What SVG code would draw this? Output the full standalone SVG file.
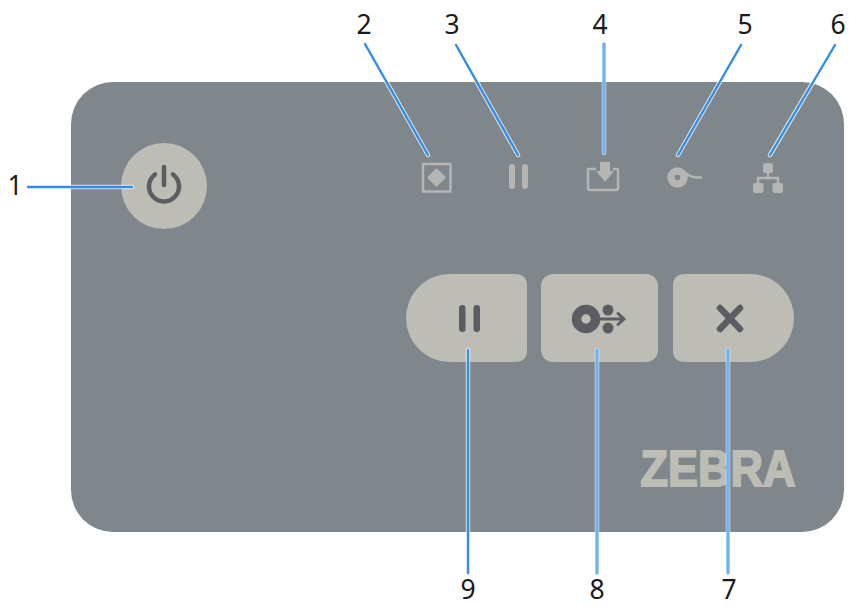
<svg xmlns="http://www.w3.org/2000/svg" width="849" height="607" viewBox="0 0 849 607">
<style>
.num{font-family:"Noto Sans","Open Sans",sans-serif;font-size:26.500px;fill:#1a1a1a;text-anchor:middle}
.halo{stroke:#fff;stroke-width:4.500;stroke-linecap:round;fill:none;opacity:.75}
.ln{stroke:#2f8fe8;stroke-width:2.400;stroke-linecap:round;fill:none}
.lnw{stroke:#74b2ee;stroke-width:3.400;stroke-linecap:round;fill:none}
.btn{fill:#bdbdb5}
.led{fill:#b5b5b3}
.ledl{fill:none;stroke:#b5b5b3}
.ic{fill:#5d5c63}
.icl{fill:none;stroke:#5d5c63;stroke-linecap:round}
</style>
<rect id="panel" x="71" y="82" width="773" height="450" rx="42" fill="#7f868c"/>
<g id="power">
<circle class="btn" cx="164" cy="186" r="43"/>
<path class="icl" stroke-width="4.500" d="M155 174.500A15 15 0 1 0 173 174.500M164 167V185"/>
</g>
<g id="led-status">
<rect class="ledl" x="423" y="164" width="27.500" height="27.500" stroke-width="2.500"/>
<path class="led" stroke="#b5b5b3" stroke-width="3" stroke-linejoin="round" d="M436.500 170L444 177.500L436.500 185L429 177.500Z"/>
</g>
<g id="led-pause">
<rect class="led" x="509" y="164" width="6" height="25" rx="3"/>
<rect class="led" x="522" y="164" width="6" height="25" rx="3"/>
</g>
<g id="led-data">
<path class="ledl" stroke-width="2.500" d="M596 169H588V188.500Q588 190 590 190H616Q618 190 618 188.500V170Q618 169 616 169H613"/>
<path class="led" d="M600 162H610V171H614L605 182L596 171H600Z"/>
</g>
<g id="led-supplies">
<circle class="ledl" cx="677.500" cy="177.500" r="6.500" stroke-width="7.500"/>
<path class="ledl" stroke-width="2.500" d="M686 173Q690 178 702 177.500"/>
</g>
<g id="led-network">
<rect class="led" x="763" y="163" width="10" height="10" rx="2"/>
<rect class="led" x="753" y="183" width="10.500" height="10" rx="2"/>
<rect class="led" x="772.500" y="183" width="10.500" height="10" rx="2"/>
<path class="ledl" stroke-width="2.500" d="M768 172V178M758 184V178H778V184"/>
</g>
<g id="btn-pause">
<path class="btn" d="M450 274H515Q527 274 527 286V350Q527 362 515 362H450A44 44 0 0 1 450 274Z"/>
<rect class="ic" x="459" y="305" width="6.500" height="27" rx="3"/>
<rect class="ic" x="473.500" y="305" width="6.500" height="27" rx="3"/>
</g>
<g id="btn-feed">
<rect class="btn" x="541" y="274" width="117" height="88" rx="12"/>
<circle class="icl" cx="586" cy="319" r="9.500" stroke-width="9.500"/>
<circle class="ic" cx="608" cy="310" r="5.500"/>
<circle class="ic" cx="608" cy="328" r="5.500"/>
<path class="icl" stroke-width="3" d="M596 319H624M618 313.500L624 319L618 324.500"/>
</g>
<g id="btn-cancel">
<path class="btn" d="M685 274H750A44 44 0 0 1 750 362H685Q673 362 673 350V286Q673 274 685 274Z"/>
<path class="icl" stroke-width="6.500" d="M720 308L740 329M740 308L720 329"/>
</g>
<text id="logo" x="718" y="486" font-family="Liberation Sans,sans-serif" font-size="50" font-weight="700" fill="#bdbdb5" stroke="#bdbdb5" stroke-width="2" text-anchor="middle" textLength="155" lengthAdjust="spacingAndGlyphs">ZEBRA</text>
<g id="connectors">
<path class="halo" d="M28 187H132M365 44L428 155M456 45L518 155M604 44V153M741 45L678 155M835 45L770 155M728 350V573M597 350V573M468 350V573"/>
<path class="ln" d="M28 187H132M365 44L428 155M456 45L518 155M741 45L678 155M835 45L770 155M468 350V573"/>
<path class="lnw" d="M604 44V153M728 350V573M597 350V573"/>
</g>
<g id="labels">
<text class="num" x="15" y="195">1</text>
<text class="num" x="364" y="34">2</text>
<text class="num" x="452" y="34">3</text>
<text class="num" x="600" y="34">4</text>
<text class="num" x="745" y="34">5</text>
<text class="num" x="838" y="34">6</text>
<text class="num" x="729" y="599">7</text>
<text class="num" x="597" y="599">8</text>
<text class="num" x="468" y="599">9</text>
</g>
</svg>
